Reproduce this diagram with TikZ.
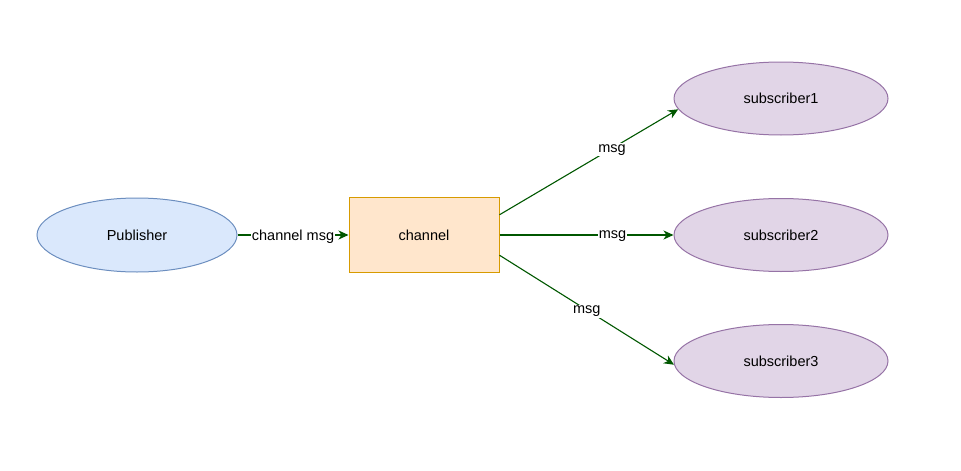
\documentclass[tikz,border=0pt]{standalone}
\usepackage{fontspec}
\setmainfont{Liberation Sans}
\usetikzlibrary{shapes.geometric,arrows.meta}
\definecolor{pubfill}{HTML}{DAE8FC}
\definecolor{pubdraw}{HTML}{6C8EBF}
\definecolor{chfill}{HTML}{FFE6CC}
\definecolor{chdraw}{HTML}{D79B00}
\definecolor{subfill}{HTML}{E1D5E7}
\definecolor{subdraw}{HTML}{9673A6}
\definecolor{edgecol}{HTML}{005700}
\tikzset{
  pubnode/.style={ellipse, draw=pubdraw, fill=pubfill, line width=1pt, minimum width=200pt, minimum height=74pt, inner sep=0pt},
  chnode/.style={rectangle, draw=chdraw, fill=chfill, line width=1pt, minimum width=150pt, minimum height=75pt, inner sep=0pt},
  subnode/.style={ellipse, draw=subdraw, fill=subfill, line width=1pt, minimum width=214pt, minimum height=73pt, inner sep=0pt},
  conn/.style={draw=edgecol, line width=1.1pt, -{Stealth[length=10pt,width=9pt,inset=3pt]}},
  lbl/.style={fill=white, inner sep=1pt, text=black, yshift=-1.5pt},
  every node/.style={font=\fontsize{14.5pt}{17pt}\selectfont}
}
\begin{document}
\begin{tikzpicture}[x=1pt,y=-1pt]
\useasboundingbox (0,0) rectangle (961,471);
\node[pubnode] (pub) at (137,235) {Publisher};
\node[chnode] (ch) at (424,235) {channel};
\node[subnode] (s1) at (781,98.5) {subscriber1};
\node[subnode] (s2) at (781,235) {subscriber2};
\node[subnode] (s3) at (781,361) {subscriber3};
\draw[conn] (pub.east) -- node[lbl, pos=0.5] {channel msg} (ch.west);
\draw[conn] (ch.15.3) -- node[lbl, pos=0.63] {msg} (s1.186);
\draw[conn] (ch.east) -- node[lbl, pos=0.65] {msg} (s2.west);
\draw[conn] (ch.-15.3) -- node[lbl, pos=0.5] {msg} (s3.182);
\end{tikzpicture}
\end{document}
